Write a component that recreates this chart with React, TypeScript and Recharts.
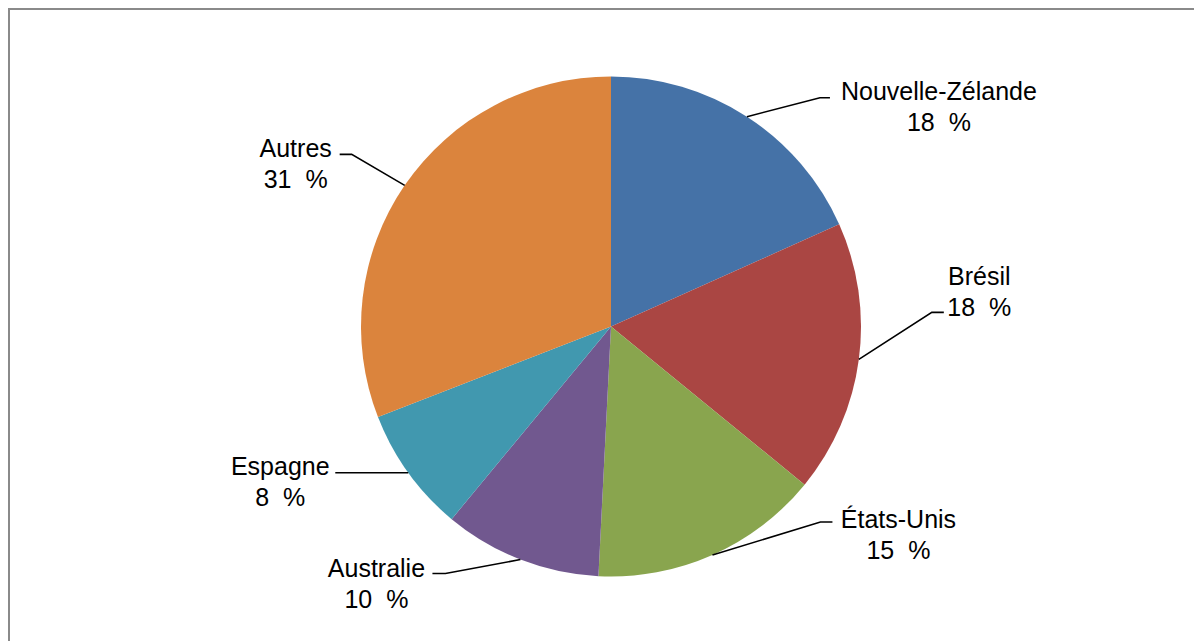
import { PieChart, Pie, Cell } from "recharts";

const COUNTRIES = ["Nouvelle-Zélande", "Brésil", "États-Unis", "Australie", "Espagne", "Autres"];
const SHARES = [18.3, 17.6, 14.9, 10.2, 8.1, 30.9];
const COLORS = ["#4572A7", "#AA4643", "#89A54E", "#71588F", "#4198AF", "#DB843D"];

// leader line elbow / tail and text offset, relative to the slice edge point
const LABEL_LAYOUT: Record<string, { ex: number; ey: number; tail: number; tx: number; ty: number }> = {
  "Nouvelle-Zélande": { ex: 73, ey: -19, tail: 10, tx: 109, ty: -6.5 },
  "Brésil": { ex: 73, ey: -47, tail: 12, tx: 35.5, ty: -36.5 },
  "États-Unis": { ex: 108, ey: -33, tail: 12, tx: 66, ty: -2.5 },
  "Australie": { ex: -75, ey: 14, tail: -13, tx: -56, ty: -5.5 },
  "Espagne": { ex: -63, ey: 0, tail: -10, tx: -55, ty: -7 },
  "Autres": { ex: -53, ey: -31, tail: -12, tx: -44, ty: -6.5 },
};

const data = COUNTRIES.map((name, i) => ({ name, value: SHARES[i] }));

const RAD = Math.PI / 180;

function renderLabel(props: any) {
  const { cx, cy, midAngle, outerRadius, name, percent } = props;
  const lay = LABEL_LAYOUT[name];
  if (!lay) return null;
  const x0 = cx + outerRadius * Math.cos(midAngle * RAD);
  const y0 = cy - outerRadius * Math.sin(midAngle * RAD);
  const x1 = x0 + lay.ex;
  const y1 = y0 + lay.ey;
  const x2 = x1 + lay.tail;
  const tx = x2 + lay.tx;
  const ty = y1 + lay.ty;
  return (
    <g>
      <polyline
        points={`${x0},${y0} ${x1},${y1} ${x2},${y1}`}
        fill="none"
        stroke="#000"
        strokeWidth={1.6}
      />
      <text
        x={tx}
        y={ty}
        textAnchor="middle"
        dominantBaseline="central"
        fill="#000"
        fontSize={25}
        fontFamily="'Liberation Sans', Arial, sans-serif"
      >
        {name}
      </text>
      <text
        x={tx}
        y={ty + 31}
        textAnchor="middle"
        dominantBaseline="central"
        fill="#000"
        fontSize={25}
        fontFamily="'Liberation Sans', Arial, sans-serif"
        style={{ whiteSpace: "pre" }}
      >
        {`${Math.round(percent * 100)}  %`}
      </text>
    </g>
  );
}

export default function App() {
  return (
    <div
      style={{
        width: 1192,
        height: 631,
        borderTop: "2px solid #8a8a8a",
        borderLeft: "2px solid #8a8a8a",
        background: "#fff",
      }}
    >
      <PieChart width={1192} height={631} margin={{ top: 0, right: 0, bottom: 0, left: 0 }}>
        <Pie
          data={data}
          dataKey="value"
          nameKey="name"
          cx={601}
          cy={316.5}
          outerRadius={250}
          startAngle={90}
          endAngle={-270}
          stroke="none"
          labelLine={false}
          label={renderLabel}
          isAnimationActive={false}
        >
          {data.map((_, i) => (
            <Cell key={i} fill={COLORS[i % COLORS.length]} />
          ))}
        </Pie>
      </PieChart>
    </div>
  );
}
